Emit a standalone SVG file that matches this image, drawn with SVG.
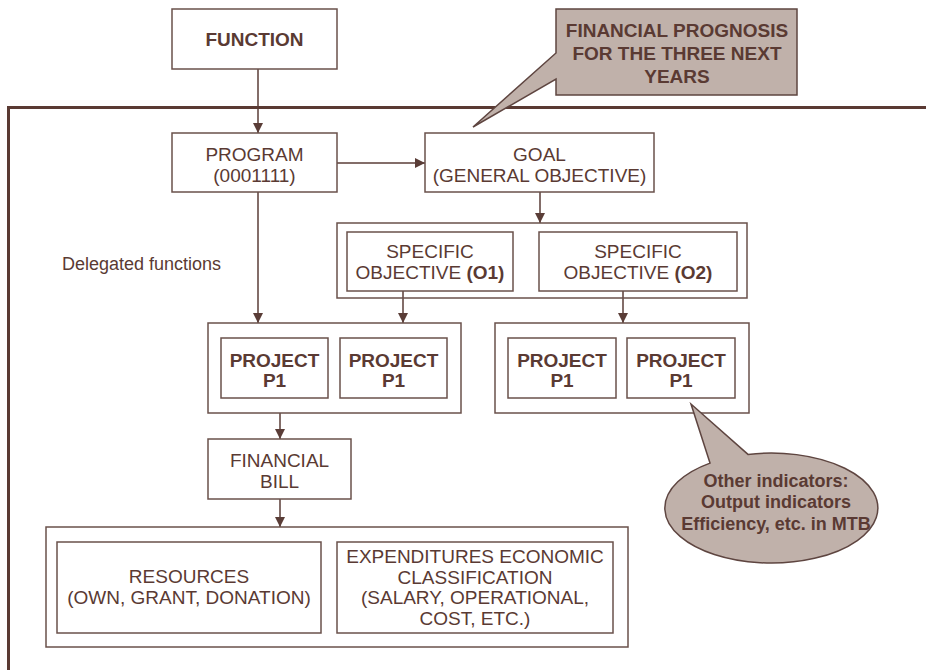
<svg xmlns="http://www.w3.org/2000/svg" width="926" height="670" viewBox="0 0 926 670">
<defs>
<marker id="ah" viewBox="0 0 10 10" refX="10" refY="5" markerWidth="10" markerHeight="10" markerUnits="userSpaceOnUse" orient="auto">
<path d="M0,0 L10,5 L0,10 Z" fill="#5a3d37"/>
</marker>
<style>
.box{fill:#fff;stroke:#6a514b;stroke-width:1.5}
.cont{fill:none;stroke:#6a514b;stroke-width:1.5}
.t{font-family:"Liberation Sans",Arial,sans-serif;font-size:19px;fill:#5a3a33;text-anchor:middle}
.b{font-weight:bold}
.call{fill:#c0b1aa;stroke:#5e4540;stroke-width:1.5}
.c{fill:none;stroke:#5a3d37;stroke-width:1.5;marker-end:url(#ah)}
</style>
</defs>
<rect width="926" height="670" fill="#fff"/>
<g id="frame">
<path d="M8.5,670 V107.5 H926" fill="none" stroke="#5a3a33" stroke-width="3"/>
</g>
<g id="connectors">
<line class="c" x1="258" y1="69" x2="258" y2="133"/>
<line class="c" x1="337" y1="163" x2="425" y2="163"/>
<line class="c" x1="540" y1="192" x2="540" y2="223"/>
<line class="c" x1="258" y1="192" x2="258" y2="323"/>
<line class="c" x1="403" y1="291" x2="403" y2="323"/>
<line class="c" x1="623" y1="291" x2="623" y2="323"/>
<line class="c" x1="280" y1="413" x2="280" y2="439"/>
<line class="c" x1="280" y1="499" x2="280" y2="527"/>
</g>
<g id="function">
<rect class="box" x="172" y="9" width="165" height="60"/>
<text class="t b" x="254.5" y="46">FUNCTION</text>
</g>
<g id="program">
<rect class="box" x="172" y="133" width="165" height="59"/>
<text class="t" x="254.5" y="161">PROGRAM</text>
<text class="t" x="254.5" y="182">(0001111)</text>
</g>
<g id="goal">
<rect class="box" x="425" y="133" width="229" height="59"/>
<text class="t" x="539.5" y="161">GOAL</text>
<text class="t" x="539.5" y="182">(GENERAL OBJECTIVE)</text>
</g>
<g id="delegated">
<text class="t" x="62" y="270" style="text-anchor:start;font-size:18px">Delegated functions</text>
</g>
<g id="specific-objectives">
<rect class="cont" x="337" y="223" width="410" height="75"/>
<g id="o1">
<rect class="box" x="347" y="232" width="166" height="59"/>
<text class="t" x="430" y="258">SPECIFIC</text>
<text class="t" x="430" y="279">OBJECTIVE <tspan class="b">(O1)</tspan></text>
</g>
<g id="o2">
<rect class="box" x="539" y="232" width="198" height="59"/>
<text class="t" x="638" y="258">SPECIFIC</text>
<text class="t" x="638" y="279">OBJECTIVE <tspan class="b">(O2)</tspan></text>
</g>
</g>
<g id="projects-left">
<rect class="cont" x="208" y="323" width="253" height="90"/>
<g id="p1a">
<rect class="box" x="221" y="338" width="107" height="60"/>
<text class="t b" x="274.5" y="367">PROJECT</text>
<text class="t b" x="274.5" y="387">P1</text>
</g>
<g id="p1b">
<rect class="box" x="340" y="338" width="107" height="60"/>
<text class="t b" x="393.5" y="367">PROJECT</text>
<text class="t b" x="393.5" y="387">P1</text>
</g>
</g>
<g id="projects-right">
<rect class="cont" x="495" y="323" width="254" height="90"/>
<g id="p1c">
<rect class="box" x="508" y="338" width="108" height="60"/>
<text class="t b" x="562" y="367">PROJECT</text>
<text class="t b" x="562" y="387">P1</text>
</g>
<g id="p1d">
<rect class="box" x="627" y="338" width="108" height="60"/>
<text class="t b" x="681" y="367">PROJECT</text>
<text class="t b" x="681" y="387">P1</text>
</g>
</g>
<g id="financial-bill">
<rect class="box" x="208" y="439" width="143" height="60"/>
<text class="t" x="279.5" y="467">FINANCIAL</text>
<text class="t" x="279.5" y="488">BILL</text>
</g>
<g id="bottom">
<rect class="cont" x="46" y="527" width="582" height="120"/>
<g id="resources">
<rect class="box" x="57" y="542" width="264" height="91"/>
<text class="t" x="189" y="583">RESOURCES</text>
<text class="t" x="189" y="604">(OWN, GRANT, DONATION)</text>
</g>
<g id="expenditures">
<rect class="box" x="337" y="542" width="276" height="91"/>
<text class="t" x="475" y="563">EXPENDITURES ECONOMIC</text>
<text class="t" x="475" y="584">CLASSIFICATION</text>
<text class="t" x="475" y="604">(SALARY, OPERATIONAL,</text>
<text class="t" x="475" y="625">COST, ETC.)</text>
</g>
</g>
<g id="prognosis-callout">
<path class="call" d="M556,9 H797 V95 H556 V79 L473,127 L556,53 Z"/>
<text class="t b" x="677" y="37">FINANCIAL PROGNOSIS</text>
<text class="t b" x="677" y="60">FOR THE THREE NEXT</text>
<text class="t b" x="677" y="83">YEARS</text>
</g>
<g id="indicators-callout">
<path class="call" d="M710,463.1 L691,404 L748,454.4 A106.5,55 0 1 1 710,463.1 Z"/>
<text class="t b" x="776" y="487" style="font-size:18px">Other indicators:</text>
<text class="t b" x="776" y="508" style="font-size:18px">Output indicators</text>
<text class="t b" x="776" y="530" style="font-size:18px">Efficiency, etc. in MTB</text>
</g>
</svg>
